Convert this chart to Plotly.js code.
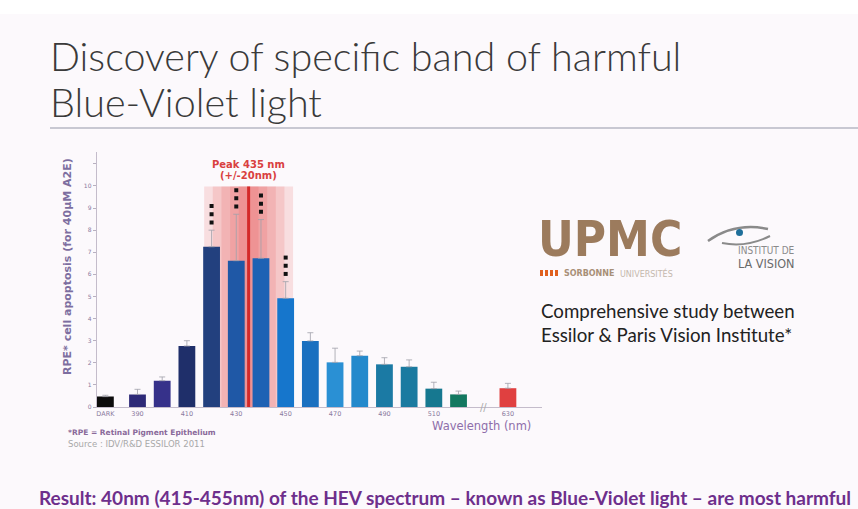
<!DOCTYPE html>
<html>
<head>
<meta charset="utf-8">
<script src="https://cdn.plot.ly/plotly-3.0.1.min.js"></script>
<style>
html,body{margin:0;padding:0;background:#fcf9fc;}
#chart{width:858px;height:509px;}
</style>
</head>
<body>
<div id="chart"></div>
<script>
// ---- data ----
var categories = ['DARK','390','400','410','420','430','440','450','460','470','480','490','500','510','520',' ','630'];
var apoptosis  = [0.47, 0.57, 1.19, 2.76, 7.25, 6.62, 6.73, 4.92, 2.99, 2.02, 2.32, 1.93, 1.82, 0.83, 0.57, null, 0.85];
var errors     = [0.06, 0.23, 0.17, 0.24, 0.75, 2.10, 1.75, 0.75, 0.37, 0.64, 0.21, 0.30, 0.31, 0.29, 0.15, null, 0.22];
var tickLabels = ['DARK','390','410','430','450','470','490','510','630'];
var yTickLabels = ['0','1','2','3','4','5','6','7','8','9','10',''];
var significant = ['420','430','440','450'];

// ---- styles ----
var barColors = ['#0c0c0c','#2e2a78','#36318a','#1f2f6a','#22407e','#1f58a6','#1e62b4','#1676cc',
                 '#1a70c0','#2a90d4','#2389cc','#1b7aa4','#1a7aa0','#167890','#137860','#ffffff','#e04040'];

var idx = function(c){ return categories.indexOf(c); };
var offsets = categories.map(function(c){ return c === 'DARK' ? -0.64 : -0.34; });

var bars = {
  type:'bar', x: categories, y: apoptosis,
  width: 0.68, offset: offsets,
  marker:{color: barColors, line:{width:0}},
  error_y:{type:'data', array: errors, visible:true, symmetric:false,
           color:'rgba(160,160,170,0.8)', thickness:1, width:3},
  hoverinfo:'x+y', showlegend:false
};

// significance dots (three per bar, above the error bar)
var dotX = [], dotY = [];
significant.forEach(function(c){
  var i = idx(c), top = apoptosis[i] + errors[i];
  for (var k = 0; k < 3; k++){ dotX.push(c); dotY.push(top + 0.35 + k*0.37); }
});
var dots = {type:'scatter', mode:'markers', x: dotX, y: dotY,
  marker:{symbol:'square', size:4, color:'#111'}, hoverinfo:'skip', showlegend:false};

var tickVals = tickLabels.map(function(c){ return c === 'DARK' ? -0.3 : idx(c); });

var W = 858, H = 509;
function px(x){ return x / W; }
function py(y){ return 1 - y / H; }

// peak band: centred between 430 and 440
var pc = (idx('430') + idx('440')) / 2;
var shapes = [
  {type:'rect', xref:'paper', yref:'paper', x0:0, x1:1, y0:py(14), y1:1, fillcolor:'#ffffff', line:{width:0}, layer:'below'},
  {type:'line', xref:'paper', yref:'paper', x0:px(50), x1:1, y0:py(128), y1:py(128), line:{color:'#c8c8d2', width:2}}
];
[1.8, 1.45, 1.1, 0.75, 0.4].forEach(function(hw){
  shapes.push({type:'rect', xref:'x', yref:'y', x0: pc-hw, x1: pc+hw, y0:0, y1:9.97,
    fillcolor:'rgba(228,70,70,0.15)', line:{width:0}, layer:'below'});
});
shapes.push({type:'line', xref:'x', yref:'y', x0:pc, x1:pc, y0:0, y1:9.97, line:{color:'#d42a2a', width:3}, layer:'below'});

// eye logo
shapes.push({type:'path', xref:'paper', yref:'paper',
  path:'M '+px(708)+' '+py(241)+' Q '+px(735)+' '+py(222)+' '+px(768)+' '+py(229),
  line:{color:'#8a8a8a', width:2.5}});
shapes.push({type:'path', xref:'paper', yref:'paper',
  path:'M '+px(722)+' '+py(243)+' Q '+px(746)+' '+py(248)+' '+px(770)+' '+py(236),
  line:{color:'#8a8a8a', width:2}});
shapes.push({type:'circle', xref:'paper', yref:'paper', x0:px(736), x1:px(743), y0:py(229), y1:py(236),
  fillcolor:'#1f6f9a', line:{width:0}});
// sorbonne orange marks
for (var s = 0; s < 4; s++){
  shapes.push({type:'rect', xref:'paper', yref:'paper', x0:px(540 + s*5), x1:px(543 + s*5),
    y0:py(276), y1:py(270), fillcolor:'#e0601e', line:{width:0}});
}

var slideFont = 'Lato, "Open Sans", sans-serif';
var annotations = [
  {text:'Discovery of specific band of harmful', x:px(48), y:py(55), xanchor:'left', yanchor:'middle',
   font:{family:slideFont, size:39.5, weight:300, color:'#3a3a3a'}},
  {text:'Blue-Violet light', x:px(48), y:py(101), xanchor:'left', yanchor:'middle',
   font:{family:slideFont, size:39.5, weight:300, color:'#3a3a3a'}},
  {text:'Peak 435 nm', x:pc, xref:'x', y:py(164), xanchor:'center', yanchor:'middle',
   font:{family:'"DejaVu Sans", sans-serif', size:10, weight:700, color:'#d9403f'}},
  {text:'(+/-20nm)', x:pc, xref:'x', y:py(175), xanchor:'center', yanchor:'middle',
   font:{family:'"DejaVu Sans", sans-serif', size:10, weight:700, color:'#d9403f'}},
  {text:'RPE* cell apoptosis (for 40µM A2E)', x:px(67), y:py(267), xanchor:'center', yanchor:'middle', textangle:-90,
   font:{family:'"DejaVu Sans", sans-serif', size:11, weight:700, color:'#7d6ea0'}},
  {text:'Wavelength (nm)', x:px(482), y:py(426), xanchor:'center', yanchor:'middle',
   font:{family:'"DejaVu Sans", sans-serif', size:11.5, color:'#8e6eaa'}},
  {text:'*RPE = Retinal Pigment Epithelium', x:px(66), y:py(432), xanchor:'left', yanchor:'middle',
   font:{family:'"DejaVu Sans", sans-serif', size:7.5, weight:700, color:'#8a6a9a'}},
  {text:'Source : IDV/R&D ESSILOR 2011', x:px(66), y:py(444), xanchor:'left', yanchor:'middle',
   font:{family:'"DejaVu Sans", sans-serif', size:8.5, color:'#a8a8a8'}},
  {text:'//', x:idx(' '), xref:'x', y:0, yref:'y', xanchor:'center', yanchor:'middle',
   font:{family:'"DejaVu Sans", sans-serif', size:10, color:'#aaaaaa'}},
  {text:'UPMC', x:px(536), y:py(239), xanchor:'left', yanchor:'middle',
   font:{family:'"DejaVu Sans Condensed", "DejaVu Sans", sans-serif', size:49, weight:700, color:'#9c7b5d'}},
  {text:'SORBONNE', x:px(562), y:py(273.5), xanchor:'left', yanchor:'middle',
   font:{family:'"DejaVu Sans", sans-serif', size:8, weight:700, color:'#a89078'}},
  {text:'UNIVERSITÉS', x:px(618), y:py(273.5), xanchor:'left', yanchor:'middle',
   font:{family:'"DejaVu Sans", sans-serif', size:8, color:'#c4b8ac'}},
  {text:'INSTITUT DE', x:px(736), y:py(250), xanchor:'left', yanchor:'middle',
   font:{family:'"DejaVu Sans Condensed", sans-serif', size:10, color:'#8a8a8a'}},
  {text:'LA VISION', x:px(736), y:py(263), xanchor:'left', yanchor:'middle',
   font:{family:'"DejaVu Sans Condensed", sans-serif', size:12.5, color:'#6a6a6a'}},
  {text:'Comprehensive study between', x:px(539), y:py(311), xanchor:'left', yanchor:'middle',
   font:{family:slideFont, size:18.7, color:'#222222'}},
  {text:'Essilor & Paris Vision Institute*', x:px(539), y:py(335), xanchor:'left', yanchor:'middle',
   font:{family:slideFont, size:18.7, color:'#222222'}},
  {text:'Result: 40nm (415-455nm) of the HEV spectrum – known as Blue-Violet light – are most harmful',
   x:px(37), y:py(497), xanchor:'left', yanchor:'middle',
   font:{family:slideFont, size:19, weight:700, color:'#6e2f8c'}}
];
annotations.forEach(function(a){
  if (a.xref === undefined) a.xref = 'paper';
  if (a.yref === undefined) a.yref = 'paper';
  a.showarrow = false;
});

var layout = {
  width: W, height: H,
  margin:{l:0, r:0, t:0, b:0},
  paper_bgcolor:'#fcf9fc', plot_bgcolor:'rgba(0,0,0,0)',
  showlegend:false,
  xaxis:{domain:[px(96.7), px(542)], type:'category', categoryorder:'array', categoryarray:categories,
         range:[-0.652, 17.38], tickmode:'array', tickvals:tickVals, ticktext:tickLabels,
         showline:true, linecolor:'#c4bccb', linewidth:1, showgrid:false, zeroline:false,
         ticks:'', tickfont:{family:'"DejaVu Sans", sans-serif', size:6.5, color:'#8a7a9e'}},
  yaxis:{domain:[py(407), py(151.7)], range:[0, 11.55], tickmode:'array',
         tickvals:[0,1,2,3,4,5,6,7,8,9,10,11], ticktext:yTickLabels,
         showline:true, linecolor:'#c4bccb', linewidth:1, showgrid:false, zeroline:false,
         ticks:'outside', ticklen:3, tickcolor:'#b8b0c0',
         tickfont:{family:'"DejaVu Sans", sans-serif', size:6, color:'#8a7a9e'}},
  shapes: shapes,
  annotations: annotations
};

Plotly.newPlot('chart', [bars, dots], layout, {displayModeBar:false, staticPlot:true});
</script>
</body>
</html>
